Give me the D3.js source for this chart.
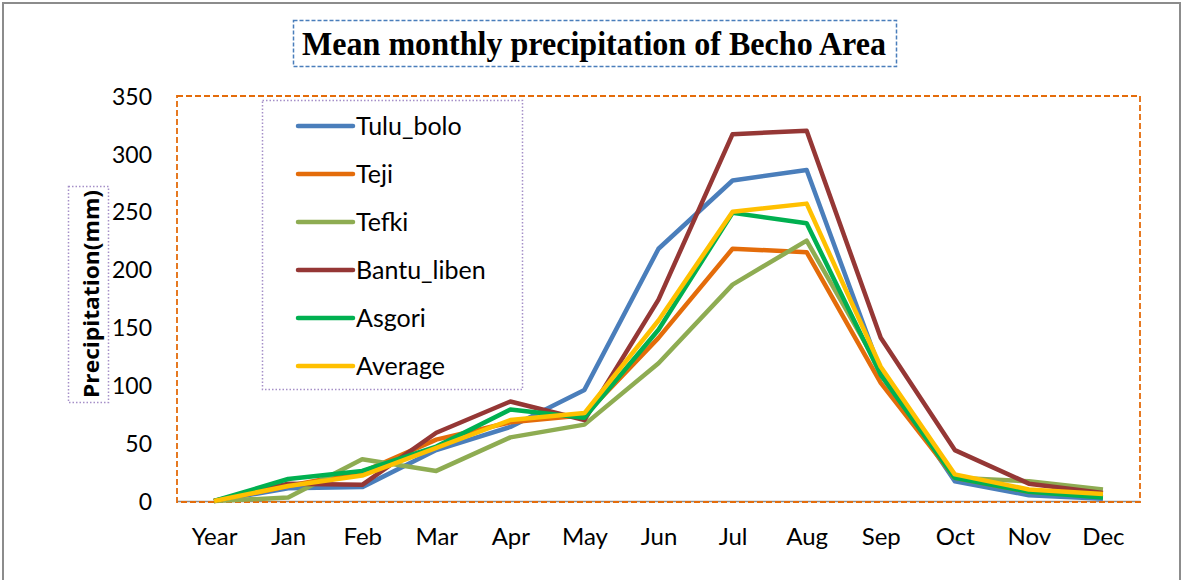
<!DOCTYPE html>
<html><head><meta charset="utf-8">
<script src="https://cdn.jsdelivr.net/npm/d3@7"></script>
<style>body{margin:0;background:#fff}svg{display:block}</style>
</head><body><svg id="c" width="1184" height="580"></svg>
<script>
const categories = ["Year","Jan","Feb","Mar","Apr","May","Jun","Jul","Aug","Sep","Oct","Nov","Dec"];
const tuluBolo   = [0, 11, 12, 44, 64, 96, 218, 277, 286, 112, 17, 5, 2];
const teji       = [0, 13, 25, 53, 68, 74, 141, 218, 215, 102, 20, 8, 5];
const tefki      = [0, 3, 36, 26, 55, 66, 119, 187, 225, 113, 20, 17, 10];
const bantuLiben = [0, 15, 14, 59, 86, 70, 174, 317, 320, 141, 44, 15, 7];
const asgori     = [0, 19, 26, 47, 79, 72, 148, 249, 240, 109, 20, 8, 3];
const average    = [0, 13, 22, 46, 70, 76, 156, 250, 257, 116, 23, 10, 6];
const seriesNames = ["Tulu_bolo","Teji","Tefki","Bantu_liben","Asgori","Average"];
const seriesColors = ["#4a7ebb","#e46c0a","#8eac52","#953735","#00b050","#ffc000"];
const yTicks = [0,50,100,150,200,250,300,350];
const title = "Mean monthly precipitation of Becho Area";
const yTitle = "Precipitation(mm)";

const seriesValues = [tuluBolo, teji, tefki, bantuLiben, asgori, average];
const svg = d3.select("#c");
const L = 177, R = 1140, T = 96, B = 501;
const x = d3.scalePoint().domain(categories).range([L, R]).padding(0.5);
const y = d3.scaleLinear().domain([0, 350]).range([B, T]);
const sans = "Lato, 'Open Sans', sans-serif";

// outer border
svg.append("path").attr("d", "M3,590 L3,3 L1180,3 L1180,590")
  .attr("fill","none").attr("stroke","#8c8c8c").attr("stroke-width",2);

// title box
svg.append("rect").attr("x",293.5).attr("y",20.5).attr("width",603).attr("height",46)
  .attr("fill","none").attr("stroke","#4a7ebb").attr("stroke-width",1.5).attr("stroke-dasharray","4,2");
svg.append("text").attr("x",594).attr("y",55).attr("text-anchor","middle")
  .attr("font-family","'Liberation Serif', serif").attr("font-weight","bold").attr("font-size",33)
  .attr("textLength",584).attr("lengthAdjust","spacingAndGlyphs").attr("fill","#000").text(title);

// y axis
const yAxis = d3.axisLeft(y).tickValues(yTicks).tickSize(0).tickPadding(0).tickFormat(d3.format("d"));
const gy = svg.append("g").attr("transform",`translate(152,0)`).call(yAxis);
gy.select(".domain").remove();
gy.selectAll("text").attr("font-family",sans).attr("font-size",23).attr("fill","#000").attr("dy","0.36em");

// x axis
const xAxis = d3.axisBottom(x).tickSize(0).tickPadding(0);
const gx = svg.append("g").attr("transform",`translate(0,${B})`).call(xAxis);
gx.select(".domain").attr("stroke","#8c8c8c").attr("stroke-width",1.5);
gx.selectAll("text").attr("font-family",sans).attr("font-size",24).attr("fill","#000").attr("y",44).attr("dy","0");

// plot area dashed border
svg.append("rect").attr("x",L).attr("y",T).attr("width",R-L).attr("height",B-T+1)
  .attr("fill","none").attr("stroke","#e46c0a").attr("stroke-width",1.8).attr("stroke-dasharray","6,3");

// y title
svg.append("rect").attr("x",68.5).attr("y",186.5).attr("width",40).attr("height",216)
  .attr("fill","none").attr("stroke","#a58fc8").attr("stroke-width",1.5).attr("stroke-dasharray","1.5,2");
svg.append("text").attr("transform","translate(99,294) rotate(-90)").attr("text-anchor","middle")
  .attr("font-family","'Open Sans', sans-serif").attr("font-weight","bold").attr("font-size",21)
  .attr("textLength",208).attr("lengthAdjust","spacingAndGlyphs").attr("fill","#000").text(yTitle);

// lines
const line = d3.line().x((d,i)=>x(categories[i])).y(d=>y(d));
seriesValues.forEach((vals,si)=>{
  svg.append("path").datum(vals).attr("d",line).attr("fill","none")
    .attr("stroke",seriesColors[si]).attr("stroke-width",4.5).attr("stroke-linejoin","round");
});

// legend
svg.append("rect").attr("x",262.5).attr("y",100.5).attr("width",260).attr("height",289)
  .attr("fill","none").attr("stroke","#a58fc8").attr("stroke-width",1.5).attr("stroke-dasharray","1.5,2");
const lg = svg.append("g");
seriesNames.forEach((n,i)=>{
  const cy = 126 + i*48;
  lg.append("line").attr("x1",298).attr("x2",353).attr("y1",cy).attr("y2",cy)
    .attr("stroke",seriesColors[i]).attr("stroke-width",4.5).attr("stroke-linecap","round");
  lg.append("text").attr("x",356).attr("y",cy).attr("dy","0.36em")
    .attr("font-family",sans).attr("font-size",25).attr("fill","#000").text(n);
});
</script></body></html>
